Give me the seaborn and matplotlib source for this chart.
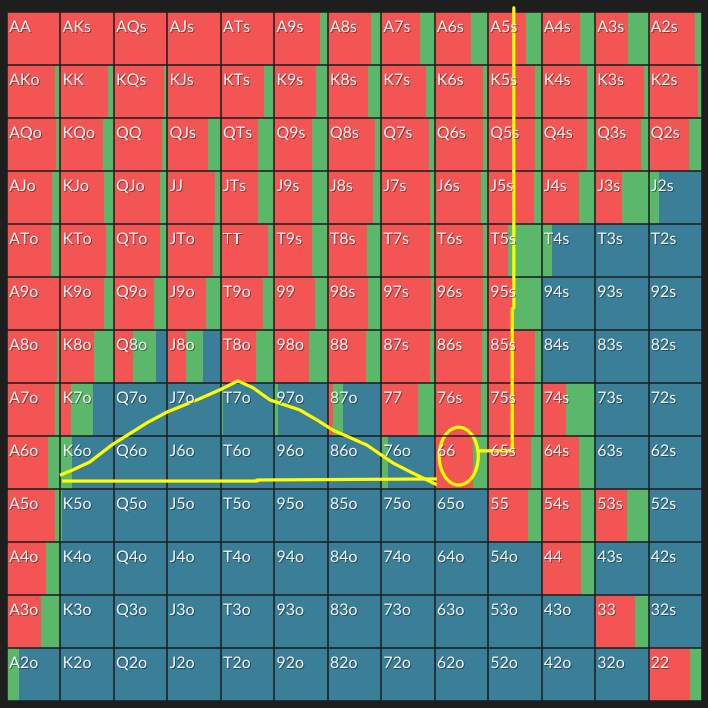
import matplotlib
matplotlib.use("Agg")
import matplotlib.pyplot as plt
import matplotlib.patheffects as pe
from matplotlib.patches import Ellipse
import numpy as np
import pandas as pd
import seaborn as sns

RANKS = list("AKQJT98765432")

# raise (red) fraction per cell, row = first rank, col = second rank
RAISE = [
    [1.00, 1.00, 1.00, 1.00, 1.00, 0.85, 0.81, 0.72, 0.68, 0.70, 0.72, 0.61, 0.87],
    [0.89, 0.89, 0.94, 1.00, 0.80, 0.78, 0.75, 0.83, 0.91, 0.88, 0.85, 0.91, 0.93],
    [0.92, 0.80, 0.90, 0.76, 0.69, 0.71, 0.88, 0.89, 0.91, 0.87, 0.85, 0.85, 0.76],
    [0.85, 0.82, 0.87, 0.89, 0.69, 0.71, 0.85, 0.91, 0.87, 0.85, 0.69, 0.50, 0.00],
    [0.83, 0.85, 0.87, 0.85, 0.89, 0.71, 0.74, 0.91, 0.91, 0.37, 0.00, 0.00, 0.00],
    [1.00, 0.82, 0.75, 0.73, 0.79, 0.77, 0.75, 0.93, 0.91, 0.48, 0.00, 0.00, 0.00],
    [0.94, 0.63, 0.35, 0.35, 0.66, 0.65, 0.72, 0.91, 0.89, 0.87, 0.00, 0.00, 0.00],
    [0.89, 0.20, 0.00, 0.00, 0.00, 0.00, 0.09, 0.69, 0.87, 0.85, 0.46, 0.00, 0.00],
    [0.77, 0.00, 0.00, 0.00, 0.00, 0.00, 0.00, 0.00, 0.71, 0.80, 0.70, 0.00, 0.00],
    [0.90, 0.00, 0.00, 0.00, 0.00, 0.00, 0.00, 0.00, 0.00, 0.74, 0.74, 0.60, 0.00],
    [0.73, 0.00, 0.00, 0.00, 0.00, 0.00, 0.00, 0.00, 0.00, 0.00, 0.74, 0.00, 0.00],
    [0.63, 0.00, 0.00, 0.00, 0.00, 0.00, 0.00, 0.00, 0.00, 0.00, 0.00, 0.75, 0.00],
    [0.00, 0.00, 0.00, 0.00, 0.00, 0.00, 0.00, 0.00, 0.00, 0.00, 0.00, 0.00, 0.78],
]

# call (green) fraction per cell, the rest is fold (blue)
CALL = [
    [0.00, 0.00, 0.00, 0.00, 0.00, 0.15, 0.19, 0.28, 0.32, 0.30, 0.28, 0.39, 0.13],
    [0.11, 0.11, 0.06, 0.00, 0.20, 0.22, 0.25, 0.17, 0.09, 0.12, 0.15, 0.09, 0.07],
    [0.08, 0.20, 0.10, 0.24, 0.31, 0.29, 0.12, 0.11, 0.09, 0.13, 0.15, 0.15, 0.24],
    [0.15, 0.18, 0.13, 0.11, 0.31, 0.29, 0.15, 0.09, 0.13, 0.15, 0.31, 0.50, 0.20],
    [0.17, 0.15, 0.13, 0.15, 0.11, 0.29, 0.26, 0.09, 0.09, 0.63, 0.19, 0.00, 0.00],
    [0.00, 0.18, 0.25, 0.27, 0.21, 0.23, 0.25, 0.07, 0.09, 0.52, 0.00, 0.00, 0.00],
    [0.06, 0.37, 0.44, 0.31, 0.34, 0.35, 0.28, 0.09, 0.11, 0.13, 0.00, 0.00, 0.00],
    [0.11, 0.41, 0.00, 0.00, 0.04, 0.07, 0.19, 0.31, 0.13, 0.15, 0.54, 0.00, 0.00],
    [0.23, 0.22, 0.00, 0.00, 0.00, 0.00, 0.00, 0.12, 0.29, 0.20, 0.30, 0.00, 0.00],
    [0.10, 0.03, 0.00, 0.00, 0.00, 0.00, 0.00, 0.00, 0.00, 0.26, 0.26, 0.40, 0.00],
    [0.27, 0.00, 0.00, 0.00, 0.00, 0.00, 0.00, 0.00, 0.00, 0.00, 0.26, 0.00, 0.00],
    [0.37, 0.00, 0.00, 0.00, 0.00, 0.00, 0.00, 0.00, 0.00, 0.00, 0.00, 0.25, 0.00],
    [0.23, 0.00, 0.00, 0.00, 0.00, 0.00, 0.00, 0.00, 0.00, 0.00, 0.00, 0.00, 0.22],
]

ACTIONS = ["raise", "call", "fold"]
COLORS = {"raise": "#F35555", "call": "#5BB86A", "fold": "#3A7F97"}

# hand-drawn yellow marks, in cell units
TRI_SIDES_X = [0.99, 1.23, 1.55, 1.96, 2.62, 2.99, 3.55, 3.98, 4.32, 4.60, 4.92,
               5.48, 5.80, 6.10, 6.73, 7.22, 7.59, 8.04]
TRI_SIDES_Y = [8.74, 8.64, 8.49, 8.17, 7.75, 7.55, 7.32, 7.13, 6.96, 7.09, 7.32,
               7.51, 7.70, 7.89, 8.17, 8.51, 8.70, 8.92]
TRI_BASE_X = [1.03, 4.68, 4.68, 8.04]
TRI_BASE_Y = [8.85, 8.85, 8.83, 8.81]
HOOK_X = [9.48, 9.48, 9.45, 9.45, 8.81]
HOOK_Y = [-0.08, 5.58, 5.60, 8.28, 8.28]


def hand_label(r: int, c: int) -> str:
    if r == c:
        return RANKS[r] * 2
    if r < c:
        return RANKS[r] + RANKS[c] + "s"
    return RANKS[c] + RANKS[r] + "o"


def build_cells() -> pd.DataFrame:
    rows = []
    for r in range(13):
        for c in range(13):
            raise_ = RAISE[r][c]
            call = CALL[r][c]
            fold = max(0.0, 1.0 - raise_ - call)
            offset = 0.0
            for action, frac in zip(ACTIONS, [raise_, call, fold]):
                rows.append(dict(row=r, col=c, action=action, frac=frac, offset=offset))
                offset += frac
    return pd.DataFrame(rows)


def main() -> None:
    sns.set_theme(style="dark")
    plt.rcParams["font.family"] = ["Lato", "DejaVu Sans"]

    cells = build_cells()

    fig = plt.figure(figsize=(7.08, 7.08), dpi=100, facecolor="#1e1e1e")
    ax = fig.add_axes([7 / 708, 1 - 701 / 708, 695 / 708, 689 / 708])
    ax.set_facecolor("#1e1e1e")

    for action in ACTIONS:
        d = cells[(cells["action"] == action) & (cells["frac"] > 0)]
        ax.barh(d["row"] + 0.5, d["frac"], left=d["col"] + d["offset"], height=1.0,
                color=COLORS[action], linewidth=0, align="center")

    ax.hlines(np.arange(14), 0, 13, color="#1c1c1c", lw=1.1)
    ax.vlines(np.arange(14), 0, 13, color="#1c1c1c", lw=1.1)

    shadow = [pe.withSimplePatchShadow(offset=(0.7, -0.7), shadow_rgbFace="#000000", alpha=0.4)]
    for r in range(13):
        for c in range(13):
            ax.text(c + 0.04, r + 0.17, hand_label(r, c), ha="left", va="top",
                    color="#f4f4f4", fontsize=11.5, path_effects=shadow)

    yellow = "#FFFF00"
    ax.plot(TRI_SIDES_X, TRI_SIDES_Y, color=yellow, lw=2.3, solid_capstyle="butt")
    ax.plot(TRI_BASE_X, TRI_BASE_Y, color=yellow, lw=2.3, solid_capstyle="butt")
    ax.plot(HOOK_X, HOOK_Y, color=yellow, lw=2.3, clip_on=False)
    ax.add_patch(Ellipse((8.45, 8.38), 0.73, 1.09, fill=False, edgecolor=yellow, lw=2.3))

    ax.set_xlim(0, 13)
    ax.set_ylim(13, 0)
    ax.set_xticks([])
    ax.set_yticks([])
    for s in ax.spines.values():
        s.set_visible(False)

    fig.savefig("out.png", dpi=100, facecolor=fig.get_facecolor())
    plt.close(fig)


if __name__ == "__main__":
    main()
